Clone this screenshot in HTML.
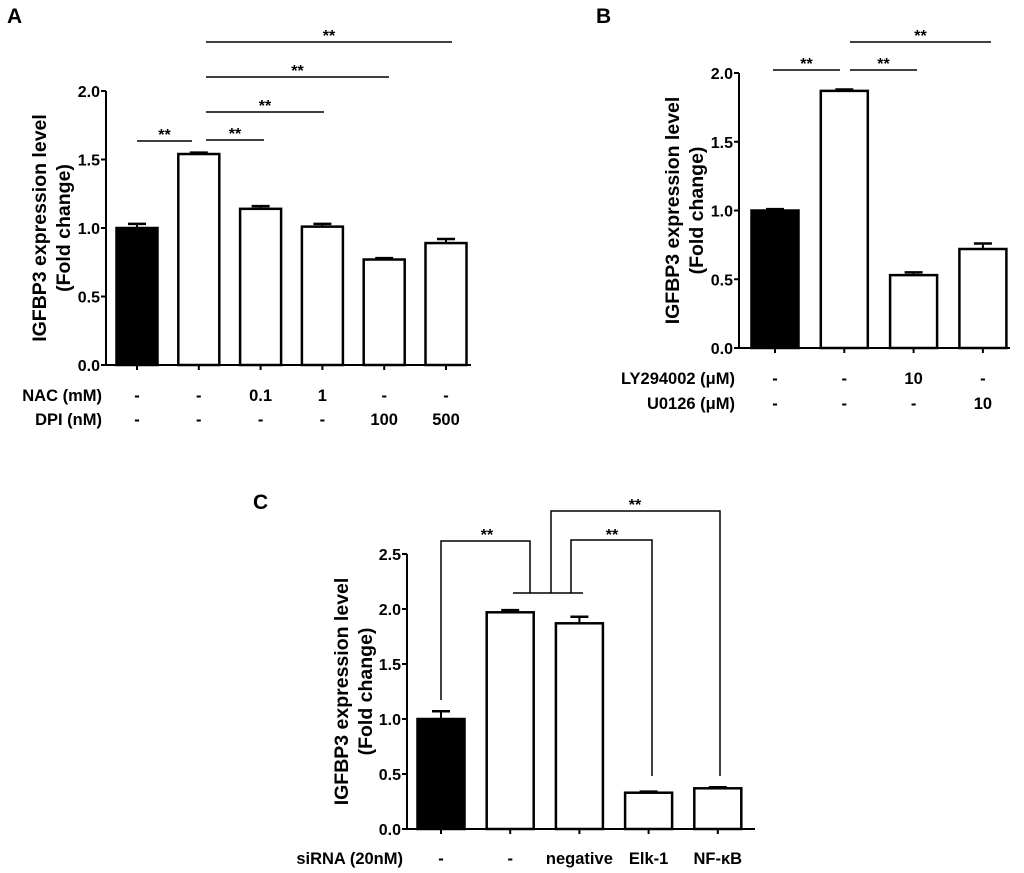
<!DOCTYPE html>
<html><head><meta charset="utf-8"><style>
body{margin:0;background:#fff}
svg{display:block}
text{font-family:"Liberation Sans",Arial,sans-serif;font-weight:bold;fill:#000}
</style></head><body>
<svg id="fig" width="1024" height="873" viewBox="0 0 1024 873" xmlns="http://www.w3.org/2000/svg">
<text x="7" y="23" font-size="21">A</text>
<text x="596" y="23" font-size="21">B</text>
<text x="253" y="509" font-size="21">C</text>
</svg>
<script>
const NS="http://www.w3.org/2000/svg";
const svg=document.getElementById('fig');
// Panel A data
const aValues=[1.0,1.54,1.14,1.01,0.77,0.89];
const aErrors=[0.03,0.01,0.02,0.02,0.01,0.03];
const aTicks=[0,0.5,1.0,1.5,2.0];
const aTickLabels=["0.0","0.5","1.0","1.5","2.0"];
const aRow1=["-","-","0.1","1","-","-"];
const aRow2=["-","-","-","-","100","500"];
// Panel B data
const bValues=[1.0,1.87,0.53,0.72];
const bErrors=[0.01,0.01,0.02,0.04];
const bTicks=[0,0.5,1.0,1.5,2.0];
const bTickLabels=["0.0","0.5","1.0","1.5","2.0"];
const bRow1=["-","-","10","-"];
const bRow2=["-","-","-","10"];
// Panel C data
const cValues=[1.0,1.97,1.87,0.33,0.37];
const cErrors=[0.07,0.02,0.06,0.01,0.01];
const cTicks=[0,0.5,1.0,1.5,2.0,2.5];
const cTickLabels=["0.0","0.5","1.0","1.5","2.0","2.5"];
const cRow1=["-","-","negative","Elk-1","NF-\u03baB"];

function el(tag,attrs,parent){const e=document.createElementNS(NS,tag);for(const k in attrs)e.setAttribute(k,attrs[k]);(parent||svg).appendChild(e);return e;}
function txt(x,y,s,size,anchor,name,parent){const t=el('text',{x:x,y:y,'font-size':size,'text-anchor':anchor},parent);t.textContent=s;


return t;}
function line(x1,y1,x2,y2,w,name){const l=el('line',{x1:x1,y1:y1,x2:x2,y2:y2,stroke:'#000','stroke-width':w});


return l;}

function panel(p){
  const g=el('g',{});
  
  
  const yS=v=>p.y0-v*p.ppu;
  const xS=i=>p.x1+i*p.step;
  line(p.ax,yS(p.ticks[p.ticks.length-1]),p.ax,p.y0+1,2,'y-axis');
  line(p.ax-1,p.y0,p.axEnd,p.y0,2,'x-axis');
  p.ticks.forEach((t,i)=>{
    line(p.ax-5,yS(t),p.ax,yS(t),2,'y-tick');
    txt(p.ax-6,yS(t)+6,p.tickLabels[i],16,'end','y-tick-label',g);
  });
  p.values.forEach((v,i)=>{
    const cx=xS(i);
    const top=yS(v);
    const r=el('rect',{x:cx-p.bw/2,y:top,width:p.bw,height:p.y0-top,fill:i===0?'#000':'#fff',stroke:'#000','stroke-width':2.5},g);
    
    
    const et=yS(v+p.errors[i]);
    line(cx,top,cx,et,2,'error-bar');
    line(cx-9,et,cx+9,et,2.5,'error-cap');
    line(cx,p.y0,cx,p.y0+5,2,'x-tick');
  });
  p.rows.forEach((row,ri)=>{
    txt(p.ax-4,row.y,row.label,16.5,'end','row-label',g);
    row.vals.forEach((s,i)=>txt(xS(i),row.y,s,16.5,'middle','row-value',g));
  });
  const cy=(yS(p.ticks[p.ticks.length-1])+p.y0)/2;
  const tt=el('text',{transform:`translate(${p.titleX},${cy}) rotate(-90)`,'font-size':19.5,'text-anchor':'middle'},g);
  
  
  const t1=el('tspan',{x:0,dy:0},tt);t1.textContent='IGFBP3 expression level';
  const t2=el('tspan',{x:0,dy:24},tt);t2.textContent='(Fold change)';
}

panel({name:'panel-a',ax:106,axEnd:471,y0:365,ppu:137,x1:137,step:61.8,bw:41,values:aValues,errors:aErrors,ticks:aTicks,tickLabels:aTickLabels,titleX:46,
  rows:[{y:401,label:'NAC (mM)',vals:aRow1},{y:425,label:'DPI (nM)',vals:aRow2}]});
panel({name:'panel-b',ax:739,axEnd:1010,y0:348,ppu:137.5,x1:775,step:69.3,bw:47,values:bValues,errors:bErrors,ticks:bTicks,tickLabels:bTickLabels,titleX:679,
  rows:[{y:384,label:'LY294002 (\u03bcM)',vals:bRow1},{y:409,label:'U0126 (\u03bcM)',vals:bRow2}]});
panel({name:'panel-c',ax:407,axEnd:755,y0:829,ppu:110,x1:441,step:69.2,bw:47,values:cValues,errors:cErrors,ticks:cTicks,tickLabels:cTickLabels,titleX:348,
  rows:[{y:864,label:'siRNA (20nM)',vals:cRow1}]});

function sig(x1,x2,y,name){line(x1,y,x2,y,1.5,name);txt((x1+x2)/2,y-1,'**',16,'middle','sig-stars');}
sig(137,192,141,'sig-a-1');sig(206,264,140,'sig-a-2');sig(206,324,112,'sig-a-3');sig(206,389,77,'sig-a-4');sig(206,452,42,'sig-a-5');
sig(773,840,70,'sig-b-1');sig(850,917,70,'sig-b-2');sig(850,991,42,'sig-b-3');
function poly(pts,name){const p=el('polyline',{points:pts,fill:'none',stroke:'#000','stroke-width':1.5});

}
poly('441,700 441,541 530,541 530,593','sig-c-bracket-1');
line(513,593,583,593,1.5,'sig-c-group-line');
poly('571,593 571,540 652,540 652,776','sig-c-bracket-2');
poly('551,593 551,511 720,511 720,776','sig-c-bracket-3');
txt(487,540,'**',16,'middle','sig-stars');txt(612,540,'**',16,'middle','sig-stars');txt(635,510,'**',16,'middle','sig-stars');
</script>
</body></html>
